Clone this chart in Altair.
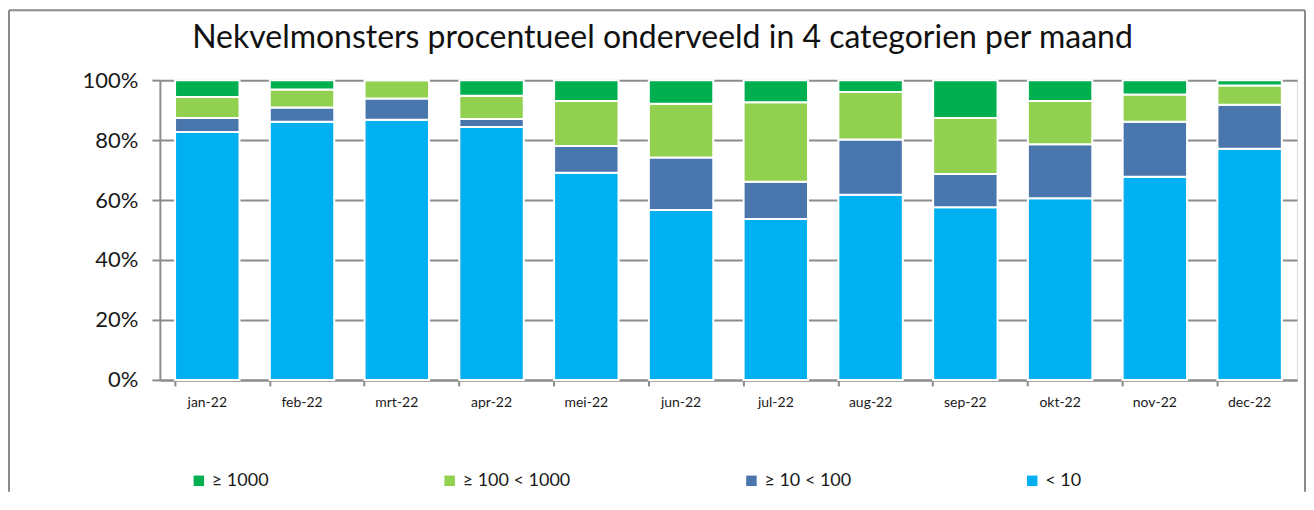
import altair as alt
import pandas as pd

months = ["jan-22", "feb-22", "mrt-22", "apr-22", "mei-22", "jun-22",
          "jul-22", "aug-22", "sep-22", "okt-22", "nov-22", "dec-22"]
categories = ["≥ 1000", "≥ 100 < 1000", "≥ 10 < 100", "< 10"]
colors = ["#00B050", "#92D050", "#4A76AE", "#00B0F0"]

lt10 = [82.7, 86.1, 86.8, 84.4, 69.1, 56.7, 53.7, 61.8, 57.6, 60.6, 67.8, 77.1]
r10_100 = [4.7, 4.8, 7.1, 2.6, 8.9, 17.5, 12.4, 18.4, 11.1, 18.0, 18.3, 14.7]
r100_1000 = [7.0, 6.0, 6.1, 7.8, 15.0, 17.9, 26.5, 15.8, 18.7, 14.4, 9.1, 6.4]
ge1000 = [5.6, 3.1, 0.0, 5.2, 7.0, 7.9, 7.4, 4.0, 12.6, 7.0, 4.8, 1.8]

title_text = "Nekvelmonsters procentueel onderveeld in 4 categorien per maand"

series = {"< 10": lt10, "≥ 10 < 100": r10_100,
          "≥ 100 < 1000": r100_1000, "≥ 1000": ge1000}
stack_order = {"< 10": 0, "≥ 10 < 100": 1, "≥ 100 < 1000": 2, "≥ 1000": 3}

rows = []
for cat, vals in series.items():
    for m, v in zip(months, vals):
        rows.append({"maand": m, "categorie": cat, "pct": v, "ord": stack_order[cat]})
df = pd.DataFrame(rows)

FONT = "Lato"
W, H = 1138, 300

bars = alt.Chart(df).mark_bar(stroke="white", strokeWidth=2).encode(
    x=alt.X("maand:N", sort=months, title=None,
            scale=alt.Scale(paddingInner=0.32, paddingOuter=0.16),
            axis=alt.Axis(labelAngle=0, labelFontSize=14, labelFont=FONT,
                          labelColor="#1a1a1a", bandPosition=0, tickSize=6,
                          tickColor="#8c8c8c", tickWidth=2, domainColor="#8c8c8c",
                          domainWidth=2, labelPadding=10, grid=False)),
    y=alt.Y("pct:Q", stack="zero", title=None,
            scale=alt.Scale(domain=[0, 100]),
            axis=alt.Axis(values=[0, 20, 40, 60, 80, 100],
                          labelExpr="datum.value + '%'",
                          labelFontSize=22, labelFont=FONT, labelColor="#1a1a1a",
                          tickSize=8, tickColor="#8c8c8c", tickWidth=2,
                          domainColor="#8c8c8c", domainWidth=2, labelPadding=14,
                          gridColor="#8c8c8c", gridWidth=2)),
    color=alt.Color("categorie:N", title=None,
                    scale=alt.Scale(domain=categories, range=colors),
                    legend=alt.Legend(orient="none", legendX=30, legendY=392,
                                      direction="horizontal", symbolType="square",
                                      symbolSize=110, symbolStrokeWidth=0,
                                      labelFontSize=18, labelFont=FONT,
                                      labelColor="#1a1a1a", columnPadding=172,
                                      labelOffset=4)),
    order=alt.Order("ord:Q", sort="ascending"),
)

dummy = pd.DataFrame({"a": [0]})

title = alt.Chart(dummy).mark_text(
    text=title_text, font=FONT, fontSize=32, color="#111111",
    align="center", baseline="alphabetic"
).encode(x=alt.value(503), y=alt.value(-32))

border_top = alt.Chart(dummy).mark_rule(color="#8a8a8a", strokeWidth=2).encode(
    x=alt.value(-151), x2=alt.value(1146), y=alt.value(-70))
border_left = alt.Chart(dummy).mark_rule(color="#8a8a8a", strokeWidth=2).encode(
    x=alt.value(-151), y=alt.value(-70), y2=alt.value(412))
border_right = alt.Chart(dummy).mark_rule(color="#8a8a8a", strokeWidth=2).encode(
    x=alt.value(1146), y=alt.value(-70), y2=alt.value(412))

chart = alt.layer(bars, title, border_top, border_left, border_right).properties(
    width=W, height=H,
    padding={"left": 0, "top": 1, "right": 0, "bottom": 0},
).configure_view(stroke=None).configure(background="white")

chart.save("out.html", embed_options={"renderer": "svg", "actions": False})
